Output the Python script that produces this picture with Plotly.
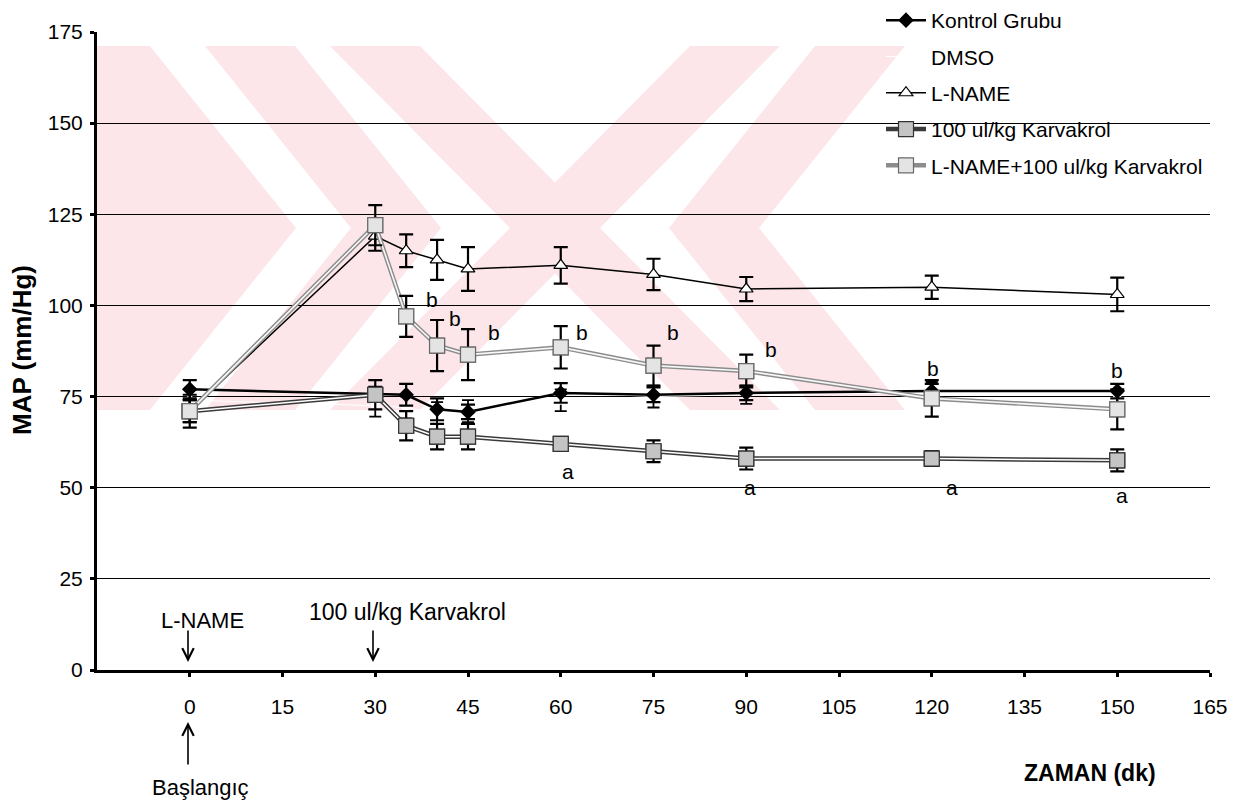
import plotly.graph_objects as go

# ---------------- data ----------------
time_min = [0, 30, 35, 40, 45, 60, 75, 90, 120, 150]

kontrol = [77, 75.7, 75.5, 71.5, 70.8, 76, 75.5, 76, 76.5, 76.5]
kontrol_err = [2.5, 2, 3, 3, 2, 2.7, 2, 2, 2, 2]

dmso = [74, 72.5, 72, 70.5, 71, 74, 75, 75.5, 76, 75.5]
dmso_err = [3, 3, 3, 3, 3, 3, 3, 2.5, 3, 3]

lname = [71, 119, 115, 112.5, 110, 111, 108.5, 104.5, 105, 103]
lname_err = [3, 4, 4.5, 5.5, 6, 5, 4.3, 3.3, 3.2, 4.6]

karv100 = [71, 75.5, 67, 64, 64, 62, 60, 58, 58, 57.5]
karv100_err = [3, 4, 4, 3.5, 3.5, 1.5, 3, 3, 2, 3]

lname_karv = [71, 122, 97, 89, 86.5, 88.5, 83.5, 82, 74.5, 71.5]
lname_karv_err = [4.5, 5.5, 5.6, 7, 7, 5.8, 5.5, 4.5, 5, 5.5]

sig_b = ['', '', 'b', 'b', 'b', 'b', 'b', 'b', 'b', 'b']   # L-NAME+Karvakrol vs L-NAME
sig_a = ['', '', '', '', '', 'a', '', 'a', 'a', 'a']       # Karvakrol vs Kontrol

names = ['Kontrol Grubu', 'DMSO', 'L-NAME', '100 ul/kg Karvakrol', 'L-NAME+100 ul/kg Karvakrol']
x_ticks = [0, 15, 30, 45, 60, 75, 90, 105, 120, 135, 150, 165]
y_ticks = [0, 25, 50, 75, 100, 125, 150, 175]

# ---------------- style ----------------
FONT = 'Liberation Sans, Arial, sans-serif'
# plot-area corners as seen on screen (page has an 8px body margin)
L, R, T, B = 97, 1210, 32, 670
OFF = 8
W, H = 1250, 797

def P(px, py):
    return (px - L) / (R - L), (B - py) / (B - T)

def poly(points):
    pts = [P(x, y) for x, y in points]
    return 'M ' + ' L '.join(f'{a:.4f},{b:.4f}' for a, b in pts) + ' Z'

PINK = '#fce6ea'
wm = [
    [(97, 46), (150, 46), (296, 228), (150, 410), (97, 410)],
    [(205, 46), (295, 46), (441, 228), (295, 410), (205, 410), (351, 228)],
    [(905, 46), (815, 46), (669, 228), (815, 410), (905, 410), (759, 228)],
    [(330, 46), (420, 46), (780, 410), (690, 410)],
    [(690, 46), (780, 46), (420, 410), (330, 410)],
]
shapes = [dict(type='path', path=poly(p), xref='paper', yref='paper',
               fillcolor=PINK, line=dict(width=0), layer='below') for p in wm]

def err(v, thick=2.2, w=7, color='black'):
    return dict(type='data', array=v, visible=True, color=color, thickness=thick, width=w)

fig = go.Figure()

# DMSO (white, invisible markers)
fig.add_trace(go.Scatter(x=time_min, y=dmso, name=names[1], mode='lines+markers',
                         line=dict(color='white', width=1),
                         marker=dict(symbol='circle', size=9, color='white'),
                         error_y=err(dmso_err, 1.8, 6),
                         legendrank=2, legendgroup='g2'))

# Kontrol Grubu
fig.add_trace(go.Scatter(x=time_min, y=kontrol, name=names[0], mode='lines+markers',
                         line=dict(color='black', width=2.5),
                         marker=dict(symbol='diamond', size=12, color='black'),
                         error_y=err(kontrol_err),
                         legendrank=1, legendgroup='g1'))

# L-NAME
fig.add_trace(go.Scatter(x=time_min, y=lname, name=names[2], mode='lines+markers',
                         line=dict(color='black', width=1.5),
                         marker=dict(symbol='triangle-up', size=12, color='white',
                                     line=dict(color='black', width=1.2)),
                         error_y=err(lname_err),
                         legendrank=3, legendgroup='g3'))

# 100 ul/kg Karvakrol (double dark line)
fig.add_trace(go.Scatter(x=time_min, y=karv100, name=names[3], mode='lines+markers',
                         line=dict(color='#3a3a3a', width=4.5),
                         marker=dict(symbol='square', size=15, color='#c4c4c4',
                                     line=dict(color='#333333', width=1.2)),
                         legendrank=4, legendgroup='g4'))
fig.add_trace(go.Scatter(x=time_min, y=karv100, mode='lines', showlegend=False,
                         line=dict(color='white', width=1.5), hoverinfo='skip', legendgroup='g4'))
fig.add_trace(go.Scatter(x=time_min, y=karv100, mode='markers', showlegend=False,
                         marker=dict(symbol='square', size=15, color='#c4c4c4',
                                     line=dict(color='#333333', width=1.2)),
                         error_y=err(karv100_err), legendgroup='g4'))

# L-NAME+100 ul/kg Karvakrol (double light line)
fig.add_trace(go.Scatter(x=time_min, y=lname_karv, name=names[4], mode='lines+markers',
                         line=dict(color='#8c8c8c', width=4.5),
                         marker=dict(symbol='square', size=15, color='#e4e4e4',
                                     line=dict(color='#6a6a6a', width=1.2)),
                         legendrank=5, legendgroup='g5'))
fig.add_trace(go.Scatter(x=time_min, y=lname_karv, mode='lines', showlegend=False,
                         line=dict(color='#f7f7f7', width=1.6), hoverinfo='skip', legendgroup='g5'))
fig.add_trace(go.Scatter(x=time_min, y=lname_karv, mode='markers', showlegend=False,
                         marker=dict(symbol='square', size=15, color='#e4e4e4',
                                     line=dict(color='#6a6a6a', width=1.2)),
                         error_y=err(lname_karv_err), legendgroup='g5'))

# ---------------- annotations ----------------
ann = []
letter_font = dict(family=FONT, size=21, color='black')
b_shift = [(0, 0), (0, 0), (26, -4), (18, 2), (26, -3), (21, -6), (19, 13), (25, 5), (1, 12), (0, 19)]
a_shift = [(0, 0)] * 5 + [(7, -28), (0, 0), (4, -29), (20, -29), (5, -35)]
for i, t in enumerate(time_min):
    if sig_b[i]:
        ann.append(dict(x=t, y=lname_karv[i] + lname_karv_err[i], text=sig_b[i], showarrow=False,
                        xanchor='center', yanchor='middle',
                        xshift=b_shift[i][0], yshift=b_shift[i][1], font=letter_font))
    if sig_a[i]:
        ann.append(dict(x=t, y=karv100[i], text=sig_a[i], showarrow=False,
                        xanchor='center', yanchor='middle',
                        xshift=a_shift[i][0], yshift=a_shift[i][1], font=letter_font))

txt = dict(family=FONT, size=22, color='black')
lab = dict(xref='paper', yref='paper', showarrow=False, xanchor='center', yanchor='middle')
arrow = dict(xref='paper', yref='paper', axref='pixel', ayref='pixel', text='', ax=0,
             showarrow=True, arrowhead=5, arrowsize=1.4, arrowwidth=1.6, arrowcolor='black')
ann += [
    dict(lab, x=P(202, 0)[0], y=P(0, 620)[1], text='L-NAME', font=txt),
    dict(lab, x=P(407, 0)[0], y=P(0, 612)[1], text='100 ul/kg Karvakrol',
         font=dict(family=FONT, size=23, color='black')),
    dict(lab, x=P(200, 0)[0], y=P(0, 787)[1], text='Başlangıç', font=txt),
    dict(arrow, x=P(188, 0)[0], y=P(0, 662)[1], ay=-33),
    dict(arrow, x=P(373, 0)[0], y=P(0, 662)[1], ay=-33),
    dict(arrow, x=P(188, 0)[0], y=P(0, 722)[1], ay=44),
    dict(lab, x=P(22, 0)[0], y=P(0, 350)[1], text='<b>MAP (mm/Hg)</b>', textangle=-90,
         font=dict(family=FONT, size=26, color='black')),
    dict(lab, x=P(1090, 0)[0], y=P(0, 773)[1], text='<b>ZAMAN (dk)</b>',
         font=dict(family=FONT, size=23, color='black')),
]

tickfont = dict(family=FONT, size=21, color='black')
fig.update_layout(
    width=W, height=H,
    margin=dict(l=L - OFF, r=W - (R - OFF), t=T - OFF, b=H - (B - OFF), autoexpand=False),
    paper_bgcolor='white', plot_bgcolor='white',
    font=dict(family=FONT, size=21, color='black'),
    showlegend=True,
    legend=dict(x=P(881, 0)[0], y=P(0, 0)[1], xanchor='left', yanchor='top',
                bgcolor='rgba(0,0,0,0)', font=dict(family=FONT, size=21, color='black'),
                tracegroupgap=6, itemwidth=40),
    shapes=shapes,
    annotations=ann,
    xaxis=dict(range=[-15, 165], tickvals=x_ticks, ticktext=[str(v) for v in x_ticks],
               showgrid=False, zeroline=False, showline=True, linecolor='black', linewidth=3,
               ticks='outside', ticklen=4, tickwidth=3, tickcolor='black',
               ticklabelstandoff=12, tickfont=tickfont),
    yaxis=dict(range=[0, 175], tickvals=y_ticks, showgrid=True, gridcolor='black', gridwidth=1,
               zeroline=False, showline=True, linecolor='black', linewidth=3,
               ticks='outside', ticklen=4, tickwidth=3, tickcolor='black',
               ticklabelstandoff=3, tickfont=tickfont),
)

fig.write_html('out.html')
